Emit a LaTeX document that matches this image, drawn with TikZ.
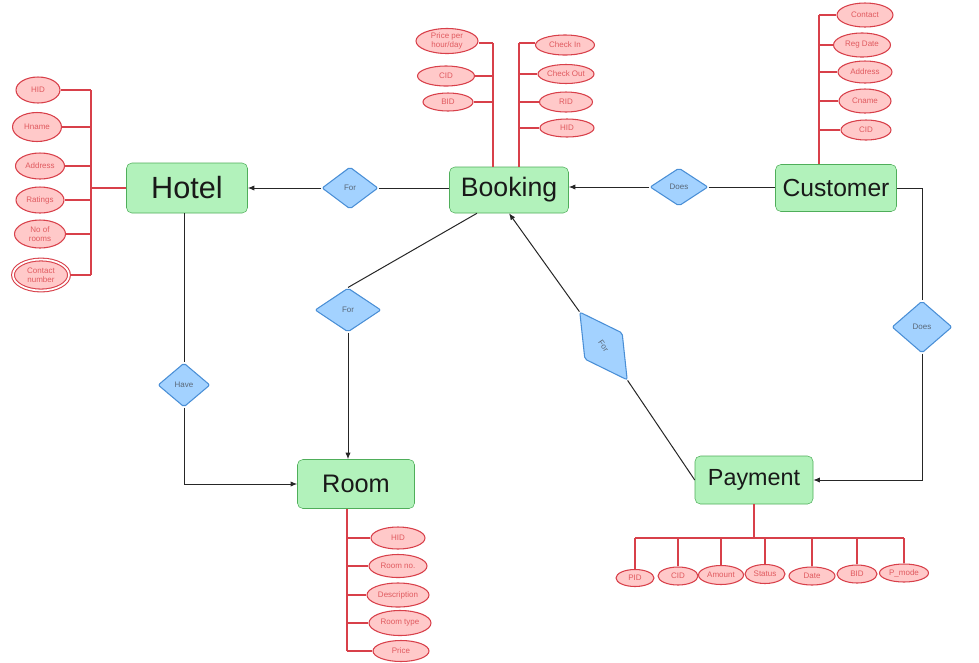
\documentclass[tikz,border=0pt]{standalone}
\usepackage{fontspec}
\setmainfont{Liberation Sans}
\usepackage{xcolor}
\usetikzlibrary{shapes.geometric}
\usetikzlibrary{positioning}
\usetikzlibrary{arrows.meta,calc}

\definecolor{entfill}{HTML}{B2F2BB}
\definecolor{entline}{HTML}{4FAE5A}
\definecolor{relfill}{HTML}{A3D2FF}
\definecolor{relline}{HTML}{4A8FD6}
\definecolor{reltext}{HTML}{5A6878}
\definecolor{attfill}{HTML}{FFC9C9}
\definecolor{attline}{HTML}{D8404A}
\definecolor{atttext}{HTML}{E05A5F}
\definecolor{linkcol}{HTML}{262626}

\tikzset{
  sz/.style 2 args={minimum width=#1*0.75pt, minimum height=#2*0.75pt},
  entity/.style={draw=entline, fill=entfill, rounded corners=4pt, inner sep=0pt, text=black!90},
  rel/.style={diamond, draw=relline, fill=relfill, rounded corners=1.5pt, inner sep=0pt,
    line width=0.8pt, font=\fontsize{6}{7}\selectfont, text=reltext},
  attr/.style={ellipse, draw=attline, fill=attfill, inner sep=0pt, line width=0.8pt,
    font=\fontsize{6}{6.5}\selectfont, text=atttext, align=center},
  link/.style={draw=linkcol, line width=0.75pt},
  tie/.style={draw=attline, line width=0.9pt},
}

\begin{document}
\begin{tikzpicture}[x=0.75pt, y=-0.75pt, >={Latex[length=5pt,width=4pt]}]
\useasboundingbox (0,0) rectangle (979,662);

\node[entity, sz={121}{50}, font=\fontsize{23}{26}\selectfont] (hotel) at (187,188) {Hotel};
\node[entity, sz={119}{46}, font=\fontsize{20}{24}\selectfont] (booking) at (509,190) {Booking};
\node[entity, sz={121}{47}, font=\fontsize{18.5}{22}\selectfont] (customer) at (836,188) {Customer};
\node[entity, sz={117}{49}, font=\fontsize{19}{22}\selectfont] (room) at (356,484) {Room};
\node[entity, sz={118}{48}, font=\fontsize{17.5}{21}\selectfont] (payment) at (754,480) {Payment};

\node[rel, sz={56}{42}] (forH) at (350,188) {For};
\node[rel, sz={58}{38}] (doesB) at (679,187) {Does};
\node[rel, sz={66}{44}] (forR) at (348,310) {For};
\node[rel, sz={52}{44}] (have) at (184,385) {Have};
\node[rel, sz={60}{52}] (doesP) at (922,327) {Does};
\node[rel, sz={83}{46}, rotate=-55] (forP) at (603.5,346) {For};

\draw[link,->] (forH.west) -- (hotel.east);
\draw[link] (forH.east) -- (forH.east -| booking.west);
\draw[link,->] (doesB.west) -- (doesB.west -| booking.east);
\draw[link] (doesB.east) -- (doesB.east -| customer.west);
\draw[link] (booking.216) -- (forR.north);
\draw[link,->] (forR.south) -- (forR.south |- room.north);
\draw[link] (have.north |- hotel.south) -- (have.north);
\draw[link,->] (have.south) |- (room.west);
\draw[link] (customer.east) -| (doesP.north);
\draw[link,->] (doesP.south) |- (payment.east);
\draw[link] (payment.west) -- (forP.east);
\draw[link,->] (forP.west) -- (booking.south);

% hotel attributes
\node[attr, sz={44}{26}] (hHID) at (38,90) {HID};
\node[attr, sz={49}{29}] (hHname) at (37,127) {Hname};
\node[attr, sz={49}{26}] (hAddress) at (40,166) {Address};
\node[attr, sz={48}{26}] (hRatings) at (40,200) {Ratings};
\node[attr, sz={51}{28}] (hRooms) at (40,234) {No of\\rooms};
\node[attr, sz={56}{31}, double, double distance=1.3pt] (hContact) at (41,275) {Contact\\number};
\coordinate (hbus) at (91,0);
\draw[tie] (hHID.east -| hbus) -- (hContact.east -| hbus);
\foreach \a in {hHID,hHname,hAddress,hRatings,hRooms,hContact}
  \draw[tie] (\a.east) -- (\a.east -| hbus);
\draw[tie] (hotel.west) -- (hotel.west -| hbus);

% booking attributes
\node[attr, sz={62}{25}] (bPrice) at (447,41) {Price per\\hour/day};
\node[attr, sz={57}{20}] (bCID) at (446,76) {CID};
\node[attr, sz={50}{18}] (bBID) at (448,102) {BID};
\node[attr, sz={59}{20}] (bIn) at (565,45) {Check In};
\node[attr, sz={56}{19}] (bOut) at (566,74) {Check Out};
\node[attr, sz={53}{20}] (bRID) at (566,102) {RID};
\node[attr, sz={54}{18}] (bHID) at (567,128) {HID};
\coordinate (bl) at (493,43);
\coordinate (br) at (519,43);
\draw[tie] (bl) -- (bl |- booking.north);
\draw[tie] (br) -- (br |- booking.north);
\draw[tie] (bPrice.east |- bl) -- (bl);
\foreach \a in {bCID,bBID}
  \draw[tie] (\a.east) -- (\a.east -| bl);
\draw[tie] (br) -- (bIn.west |- br);
\foreach \a in {bOut,bRID,bHID}
  \draw[tie] (\a.west) -- (\a.west -| br);

% customer attributes
\node[attr, sz={56}{24}] (cContact) at (865,15) {Contact};
\node[attr, sz={57}{24}] (cReg) at (862,45) {Reg Date};
\node[attr, sz={54}{22}] (cAddress) at (865,72) {Address};
\node[attr, sz={52}{24}] (cName) at (865,101) {Cname};
\node[attr, sz={50}{20}] (cCID) at (866,130) {CID};
\coordinate (cb) at (819,0);
\draw[tie] (cContact.west -| cb) -- (customer.north -| cb);
\foreach \a in {cContact,cReg,cAddress,cName,cCID}
  \draw[tie] (\a.west) -- (\a.west -| cb);

% room attributes
\node[attr, sz={54}{22}] (rHID) at (398,538) {HID};
\node[attr, sz={58}{23}] (rNo) at (398,566) {Room no.};
\node[attr, sz={62}{24}] (rDesc) at (398,595) {Description};
\node[attr, sz={62}{25}] (rType) at (400,623) {Room type};
\node[attr, sz={56}{21}] (rPrice) at (401,651) {Price};
\coordinate (rb) at (347,0);
\draw[tie] (room.south -| rb) -- (rPrice.west -| rb);
\foreach \a in {rHID,rNo,rDesc,rType,rPrice}
  \draw[tie] (\a.west) -- (\a.west -| rb);

% payment attributes
\node[attr, sz={38}{17}] (pPID) at (635,578) {PID};
\node[attr, sz={40}{18}] (pCID) at (678,576) {CID};
\node[attr, sz={45}{19}] (pAmount) at (721,575) {Amount};
\node[attr, sz={40}{19}] (pStatus) at (765,574) {Status};
\node[attr, sz={46}{18}] (pDate) at (812,576) {Date};
\node[attr, sz={40}{18}] (pBID) at (857,574) {BID};
\node[attr, sz={49}{18}] (pMode) at (904,573) {P\_mode};
\coordinate (pb) at (0,538);
\draw[tie] (payment.south) -- (payment.south |- pb);
\draw[tie] (pPID.north |- pb) -- (pMode.north |- pb);
\foreach \a in {pPID,pCID,pAmount,pStatus,pDate,pBID,pMode}
  \draw[tie] (\a.north |- pb) -- (\a.north);
\end{tikzpicture}
\end{document}
